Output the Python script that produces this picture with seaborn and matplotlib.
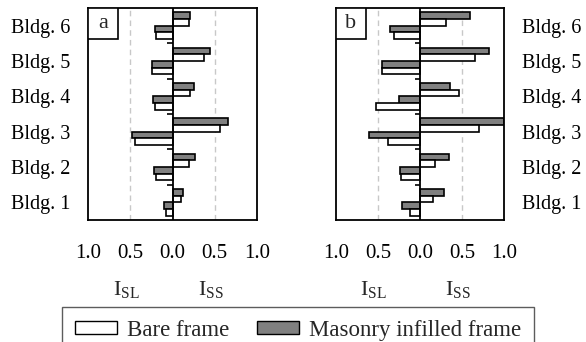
import numpy as np
import pandas as pd
import matplotlib
matplotlib.use('Agg')
import matplotlib.pyplot as plt
from matplotlib.patches import Patch, Rectangle
import seaborn as sns

# --- data ---
buildings = ['Bldg. 6', 'Bldg. 5', 'Bldg. 4', 'Bldg. 3', 'Bldg. 2', 'Bldg. 1']

# panel a
a_ss_infill = [0.21, 0.44, 0.26, 0.66, 0.27, 0.13]
a_ss_bare = [0.19, 0.37, 0.21, 0.56, 0.19, 0.095]
a_sl_infill = [0.21, 0.24, 0.23, 0.48, 0.22, 0.10]
a_sl_bare = [0.19, 0.24, 0.21, 0.44, 0.19, 0.08]

# panel b
b_ss_infill = [0.60, 0.82, 0.36, 1.00, 0.35, 0.28]
b_ss_bare = [0.31, 0.66, 0.47, 0.70, 0.18, 0.15]
b_sl_infill = [0.36, 0.45, 0.25, 0.61, 0.24, 0.22]
b_sl_bare = [0.31, 0.45, 0.52, 0.38, 0.23, 0.12]

tick_vals = [-1.0, -0.5, 0.0, 0.5, 1.0]
tick_labels = ['1.0', '0.5', '0.0', '0.5', '1.0']

series_order = ['SS infilled', 'SS bare', 'SL infilled', 'SL bare']
series_colors = {'SS infilled': '#808080', 'SS bare': 'white',
                 'SL infilled': '#808080', 'SL bare': 'white'}


def panel_frame(ss_inf, ss_bare, sl_inf, sl_bare):
    # SL index is drawn to the left (negative side)
    rows = []
    for i, b in enumerate(buildings):
        rows.append((b, 'SS infilled', ss_inf[i]))
        rows.append((b, 'SS bare', ss_bare[i]))
        rows.append((b, 'SL infilled', -sl_inf[i]))
        rows.append((b, 'SL bare', -sl_bare[i]))
    return pd.DataFrame(rows, columns=['building', 'series', 'value'])


sns.set_theme(style='white')
plt.rcParams['font.family'] = ['Liberation Serif', 'DejaVu Serif']
plt.rcParams['mathtext.fontset'] = 'custom'
plt.rcParams['mathtext.rm'] = 'Liberation Serif'
plt.rcParams['mathtext.it'] = 'Liberation Serif'

fig = plt.figure(figsize=(5.86, 3.42), dpi=100)
ax_a = fig.add_axes([88 / 586, 1 - 220 / 342, 169 / 586, 212 / 342])
ax_b = fig.add_axes([336 / 586, 1 - 220 / 342, 168 / 586, 212 / 342])

panels = [
    (ax_a, panel_frame(a_ss_infill, a_ss_bare, a_sl_infill, a_sl_bare), 'a', 'left'),
    (ax_b, panel_frame(b_ss_infill, b_ss_bare, b_sl_infill, b_sl_bare), 'b', 'right'),
]

for ax, df, tag, side in panels:
    sns.barplot(data=df, x='value', y='building', hue='series',
                order=buildings, hue_order=series_order, orient='h',
                palette=series_colors, saturation=1, width=0.76,
                edgecolor='black', linewidth=1.2, errorbar=None,
                legend=False, ax=ax, zorder=2)
    ax.set_xlim(-1, 1)
    ax.set_ylim(len(buildings) - 0.5, -0.5)
    for v in (-0.5, 0.5):
        ax.axvline(v, color='#c8c8c8', lw=1.0, ls=(0, (4, 3)), zorder=1)
    ax.axvline(0, color='black', lw=1.3, zorder=3)
    # small ticks between buildings on the zero line
    ax.hlines(np.arange(len(buildings) - 1) + 0.5, -0.065, 0,
              color='black', lw=1.2, zorder=3)

    ax.set_xticks(tick_vals)
    ax.set_xticklabels(tick_labels, fontsize=15)
    ax.tick_params(axis='x', direction='in', length=3, width=1, pad=17,
                   colors='black')
    ax.set_xlabel('')
    ax.set_ylabel('')
    if side == 'right':
        ax.yaxis.tick_right()
    ax.tick_params(axis='y', length=0, pad=13, labelsize=14.5, colors='black')
    for s in ax.spines.values():
        s.set_color('black')
        s.set_linewidth(1.3)

    # panel tag in a small box at top-left
    ax.add_patch(Rectangle((0, 1 - 31 / 212), 30 / 169, 31 / 212,
                           transform=ax.transAxes, facecolor='white',
                           edgecolor='black', lw=1.2, zorder=4))
    ax.text(15 / 169, 1 - 16 / 212, tag, transform=ax.transAxes,
            ha='center', va='center', fontsize=16, zorder=5)

    # axis names below ticks
    ax.text(-0.55, -70 / 212, r'I$_{\rm SL}$', transform=ax.get_xaxis_transform(),
            ha='center', va='center', fontsize=16)
    ax.text(0.45, -70 / 212, r'I$_{\rm SS}$', transform=ax.get_xaxis_transform(),
            ha='center', va='center', fontsize=16)

handles = [Patch(facecolor='white', edgecolor='black', lw=1.0, label='Bare frame'),
           Patch(facecolor='#808080', edgecolor='black', lw=1.0,
                 label='Masonry infilled frame')]
leg = fig.legend(handles=handles, loc='upper center',
                 bbox_to_anchor=(298 / 586, 1 - 307 / 342), ncol=2,
                 fontsize=16.5, frameon=True, fancybox=False,
                 edgecolor='#333333', handlelength=1.83, handleheight=0.45,
                 handletextpad=0.44, columnspacing=1.2, borderpad=0.55,
                 borderaxespad=0)
leg.get_frame().set_linewidth(1.0)

fig.savefig('out.png', dpi=100)
plt.close(fig)
